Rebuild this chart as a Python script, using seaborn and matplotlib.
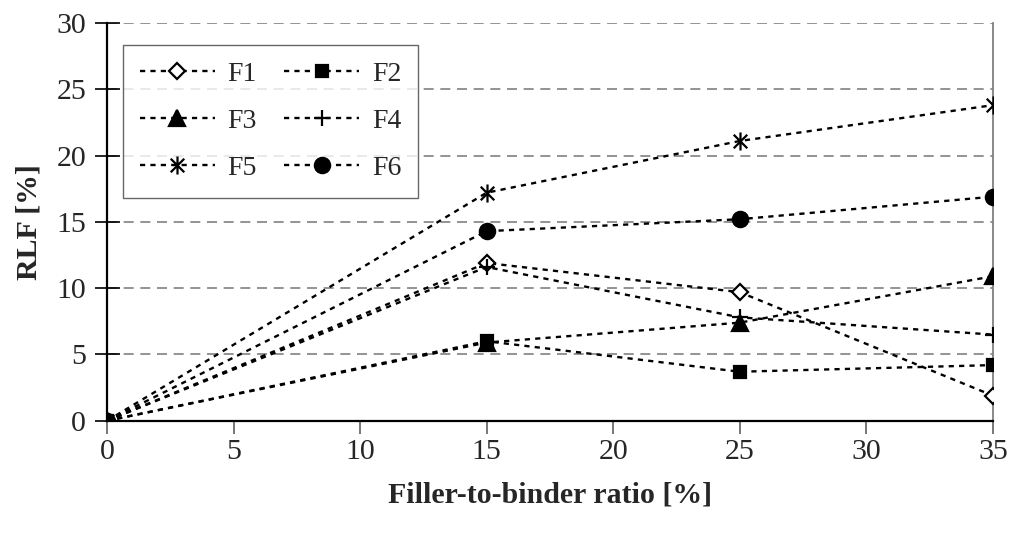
import matplotlib
matplotlib.use('Agg')
import matplotlib.pyplot as plt
from matplotlib.path import Path
import pandas as pd
import seaborn as sns

ratio = [0, 15, 25, 35]
f1 = [0, 11.9, 9.7, 1.9]
f2 = [0, 6.0, 3.7, 4.2]
f3 = [0, 5.9, 7.4, 10.9]
f4 = [0, 11.6, 7.8, 6.5]
f5 = [0, 17.2, 21.1, 23.8]
f6 = [0, 14.3, 15.2, 16.9]
names = ['F1', 'F2', 'F3', 'F4', 'F5', 'F6']

sns.set_style('white')
plt.rcParams['font.family'] = ['Liberation Serif', 'DejaVu Serif']

df = pd.DataFrame({'ratio': ratio, 'F1': f1, 'F2': f2, 'F3': f3,
                   'F4': f4, 'F5': f5, 'F6': f6})
long_df = df.melt(id_vars='ratio', var_name='series', value_name='rlf')

# excel style asterisk: a vertical bar plus an X
star = Path([(0, -1), (0, 1), (-0.75, -0.75), (0.75, 0.75),
             (-0.75, 0.75), (0.75, -0.75)],
            [Path.MOVETO, Path.LINETO] * 3)

# marker, fill, size
styles = {
    'F1': ('D', 'white', 8),
    'F2': ('s', 'black', 8),
    'F3': ('^', 'black', 11),
    'F4': ('+', 'black', 12),
    'F5': (star, 'black', 13),
    'F6': ('o', 'black', 11),
}

fig = plt.figure(figsize=(10.09, 5.34), dpi=100)
ax = fig.add_axes([0.106, 0.212, 0.878, 0.745])

for name in names:
    mk, fc, ms = styles[name]
    sub = long_df[long_df.series == name]
    sns.lineplot(data=sub, x='ratio', y='rlf', ax=ax, color='black',
                 linestyle=(0, (2.2, 2.2)), linewidth=1.7,
                 marker=mk, markersize=ms, markerfacecolor=fc,
                 markeredgecolor='black', markeredgewidth=1.6,
                 label=name, zorder=3)

ax.set_xlim(0, 35)
ax.set_ylim(0, 30)
ax.set_xticks([0, 5, 10, 15, 20, 25, 30, 35])
ax.set_yticks([0, 5, 10, 15, 20, 25, 30])
ax.yaxis.grid(True, color='#808080', linestyle=(0, (6, 4)), linewidth=1.2)
ax.xaxis.grid(False)

for s in ['left', 'bottom']:
    ax.spines[s].set_color('black')
    ax.spines[s].set_linewidth(1.6)
ax.spines['top'].set_visible(False)
ax.spines['right'].set_color('#808080')
ax.spines['right'].set_linewidth(1.3)

ax.tick_params(axis='y', direction='inout', length=18, width=1.2,
               color='black', labelsize=21.5, pad=6, left=True)
ax.tick_params(axis='x', direction='out', length=9, width=1.2,
               color='#606060', labelsize=21.5, pad=4, bottom=True)

ax.set_xlabel('Filler-to-binder ratio [%]', fontsize=21.5, fontweight='bold',
              labelpad=12)
ax.set_ylabel('RLF [%]', fontsize=21.5, fontweight='bold', labelpad=10)

# legend filled row by row, like the original
handles, labels = ax.get_legend_handles_labels()
order = [0, 2, 4, 1, 3, 5]
leg = ax.legend([handles[i] for i in order], [labels[i] for i in order],
                loc='upper left', bbox_to_anchor=(0.018, 0.945), ncol=2,
                fontsize=20, frameon=True, fancybox=False, borderaxespad=0,
                handlelength=2.7, columnspacing=1.0, labelspacing=0.78,
                borderpad=0.6, handletextpad=0.45)
leg.get_frame().set_edgecolor('#404040')
leg.get_frame().set_linewidth(1.0)
leg.get_frame().set_facecolor('white')
leg.set_zorder(5)

fig.savefig('out.png', dpi=100)
